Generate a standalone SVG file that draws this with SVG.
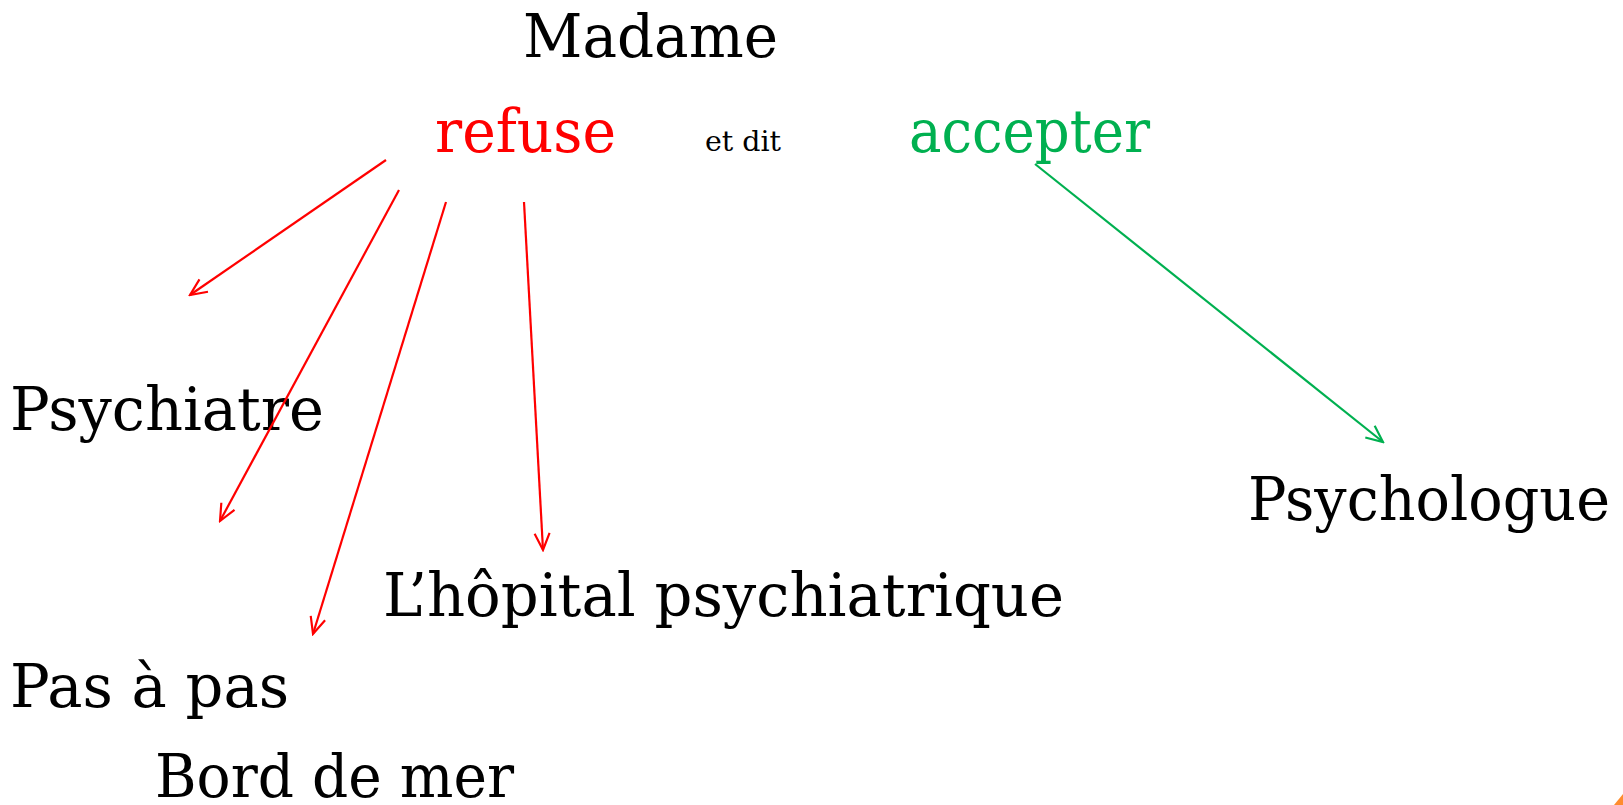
<svg xmlns="http://www.w3.org/2000/svg" width="1623" height="805" viewBox="0 0 1623 805">
<style>
.t{font-family:"DejaVu Serif","Liberation Serif",serif;font-size:60px;fill:#000}
.red{fill:#FF0000}
.grn{fill:#00B050}
.small{font-size:28px}
.cr{stroke:#FF0000;stroke-width:2.2;fill:none}
.cg{stroke:#00B050;stroke-width:2.2;fill:none}
</style>
<defs>
<marker id="ar" viewBox="0 0 12 12" refX="11" refY="6" markerWidth="20" markerHeight="20" markerUnits="userSpaceOnUse" orient="auto">
<path d="M1,1.5 L11,6 L1,10.5" fill="none" stroke="#FF0000" stroke-width="1.3"/>
</marker>
<marker id="ag" viewBox="0 0 12 12" refX="11" refY="6" markerWidth="20" markerHeight="20" markerUnits="userSpaceOnUse" orient="auto">
<path d="M1,1.5 L11,6 L1,10.5" fill="none" stroke="#00B050" stroke-width="1.3"/>
</marker>
</defs>
<rect width="1623" height="805" fill="#fff"/>
<g id="madame"><text class="t" x="523" y="57" textLength="255" lengthAdjust="spacingAndGlyphs">Madame</text></g>
<g id="refuse"><text class="t red" x="435" y="152" textLength="181" lengthAdjust="spacingAndGlyphs">refuse</text></g>
<g id="etdit"><text class="t small" x="705" y="151" textLength="76" lengthAdjust="spacingAndGlyphs">et dit</text></g>
<g id="accepter"><text class="t grn" x="909" y="152" textLength="241" lengthAdjust="spacingAndGlyphs">accepter</text></g>
<g id="psychiatre"><text class="t" x="10" y="430" textLength="314" lengthAdjust="spacingAndGlyphs">Psychiatre</text></g>
<g id="psychologue"><text class="t" x="1248" y="520" textLength="362" lengthAdjust="spacingAndGlyphs">Psychologue</text></g>
<g id="hopital"><text class="t" x="383" y="616" textLength="681" lengthAdjust="spacingAndGlyphs">L’hôpital psychiatrique</text></g>
<g id="pasapas"><text class="t" x="10" y="707" textLength="279" lengthAdjust="spacingAndGlyphs">Pas à pas</text></g>
<g id="bord"><text class="t" x="155" y="797" textLength="359" lengthAdjust="spacingAndGlyphs">Bord de mer</text></g>
<g id="connectors">
<line class="cr" x1="386" y1="160" x2="190" y2="295" marker-end="url(#ar)"/>
<line class="cr" x1="399" y1="190" x2="220" y2="521" marker-end="url(#ar)"/>
<line class="cr" x1="446" y1="202" x2="313" y2="634" marker-end="url(#ar)"/>
<line class="cr" x1="524" y1="202" x2="543" y2="550" marker-end="url(#ar)"/>
<line class="cg" x1="1035" y1="164" x2="1383" y2="442" marker-end="url(#ag)"/>
</g>
<polygon points="1614,805 1623,794 1623,805" fill="#FF8C2E"/>
</svg>
